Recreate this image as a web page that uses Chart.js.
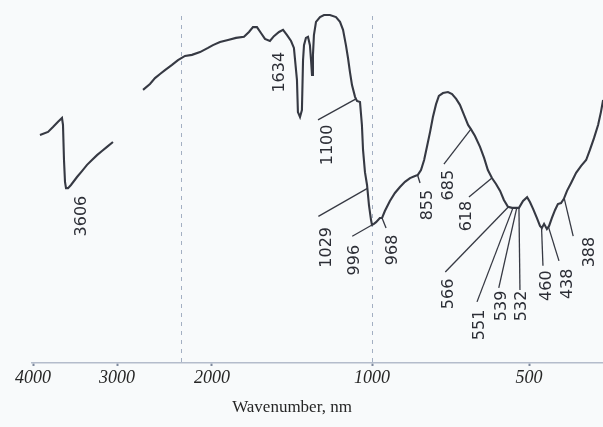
<!DOCTYPE html>
<html><head><meta charset="utf-8">
<script src="https://cdn.jsdelivr.net/npm/chart.js@4.4.1/dist/chart.umd.min.js"></script>
<style>html,body{margin:0;padding:0;background:#f8fafb;}#wrap{width:603px;height:427px;}</style>
</head><body><div id="wrap"><canvas id="c" width="603" height="427"></canvas></div>
<script>
// ---- data ----
const wavenumbers = [
  3917,3821,3762,3702,3655,3643,3631,3619,3607,3583,3548,3476,3417,3357,3298,3238,3179,3119,3048,
  2900,
  2726,2653,2600,2547,2495,2421,2358,2284,2211,2126,2042,1994,1950,1900,1850,1800,1769,1744,1719,1694,
  1669,1638,1613,1581,1556,1531,1506,1488,1469,1463,1450,1438,1431,1425,1413,1400,1388,1381,1375,1369,
  1363,1350,1325,1300,1263,1225,1200,1181,1163,1150,1138,1125,1106,1094,1075,1063,1056,1044,1031,1019,
  1006,1000,994,987,975,968,959,943,927,911,895,879,863,854,844,834,825,815,806,796,787,774,758,745,732,
  720,707,694,685,672,656,643,631,618,605,592,580,567,554,541,532,519,506,497,487,475,465,459,452,443,436,
  427,417,408,398,389,379,366,350,334,318,306,293,280,271,264
];
const transmittance = [
  65.7,66.6,68.0,69.5,70.6,68.6,58.5,52.2,50.4,50.4,51.3,53.6,55.3,57.1,58.5,59.9,61.1,62.3,63.7,
  null,
  78.7,80.4,82.1,83.3,84.4,85.9,87.3,88.5,88.8,89.6,90.8,91.6,92.5,93.1,93.7,94.0,95.4,96.8,96.8,95.1,
  93.4,92.8,94.2,95.4,96.0,94.5,92.8,90.8,81.6,72.3,70.9,72.9,87.3,91.6,93.7,94.0,91.6,87.3,83.0,88.8,
  94.5,98.3,99.7,100.3,100.3,99.7,98.3,96.0,91.6,87.9,83.9,80.1,76.7,75.5,75.2,68.6,61.4,55.0,51.3,45.5,
  41.2,39.8,40.1,40.6,41.8,41.8,43.8,46.7,49.0,50.7,52.2,53.3,53.9,54.2,55.6,58.5,62.3,66.6,70.9,74.6,77.0,77.8,78.1,77.5,76.1,
  74.4,71.5,68.6,67.4,65.4,62.3,59.1,55.6,53.3,51.6,49.6,47.0,45.0,44.7,44.7,44.7,46.7,47.8,46.4,44.4,41.8,39.5,38.9,40.1,38.6,39.5,
  41.8,44.1,45.8,46.1,47.3,49.6,51.9,54.8,56.8,58.5,61.4,64.8,68.6,72.3,75.8
];
const peakLabels = [3606,1634,1100,1029,996,968,855,685,618,566,551,539,532,460,438,388];
const axisTickLabels = [4000,3000,2000,1000,500];
const gridWavenumbers = [2326,1000];
const axisTitle = 'Wavenumber, nm';

// ---- layout (not data) ----
// piecewise axis: wavenumber knots and their relative positions along the axis
const knotWn = [4000,3000,2000,1000,500];
const knotU  = [33,117,212,372,529];
const axisRangeU = [32,603];
// per label: [leader dx, leader dy, label dx, label dy] in px from the peak point (null = no leader)
const labelLayout = [
  [null,null,16,28],[null,null,9,32],[-38,21,-28,46],[-49,28,-41,59],[-21,12,-18,36],[4,10,11,32],
  [2.5,8,10,30],[-27,35,-22,56],[-23,19,-25,38],[-63,65,-59,87],[-36,94,-33,117],[-18,80,-15,98],
  [1,82,3,98],[1.4,38,5,58],[10.5,34,19.5,57],[9,38,26,54]
];

function toU(wn){
  const n = knotWn.length;
  let i = 0;
  if (wn >= knotWn[0]) i = 0;
  else if (wn <= knotWn[n-1]) i = n-2;
  else { while (i < n-2 && wn < knotWn[i+1]) i++; }
  const t = (wn - knotWn[i])/(knotWn[i+1]-knotWn[i]);
  return knotU[i] + t*(knotU[i+1]-knotU[i]);
}
function fromU(u){
  const n = knotU.length;
  let i = 0;
  if (u <= knotU[0]) i = 0;
  else if (u >= knotU[n-1]) i = n-2;
  else { while (i < n-2 && u > knotU[i+1]) i++; }
  const t = (u - knotU[i])/(knotU[i+1]-knotU[i]);
  return knotWn[i] + t*(knotWn[i+1]-knotWn[i]);
}

class BrokenAxisScale extends Chart.LinearScale {
  getPixelForValue(v){ return (v === null || v === undefined) ? NaN : super.getPixelForValue(toU(v)); }
  getValueForPixel(p){ return fromU(super.getValueForPixel(p)); }
}
BrokenAxisScale.id = 'brokenaxis';
BrokenAxisScale.defaults = Chart.LinearScale.defaults;
Chart.register(BrokenAxisScale);

function interpT(wn){
  for (let i = 0; i < wavenumbers.length-1; i++){
    const a = wavenumbers[i], b = wavenumbers[i+1];
    if (transmittance[i] === null || transmittance[i+1] === null) continue;
    if ((wn <= a && wn >= b)){
      const t = (wn - a)/(b - a);
      return transmittance[i] + t*(transmittance[i+1]-transmittance[i]);
    }
  }
  return null;
}

const points = wavenumbers.map((w,i)=>({x:w, y:transmittance[i]}));
const ink = '#363943';

const peakPlugin = {
  id: 'peaks',
  afterDatasetsDraw(chart){
    const {ctx, scales:{x, y}} = chart;
    ctx.save();
    ctx.strokeStyle = ink; ctx.lineWidth = 1.3; ctx.fillStyle = '#2c2e36';
    ctx.font = '16px "DejaVu Sans"';
    ctx.textAlign = 'center'; ctx.textBaseline = 'middle';
    peakLabels.forEach((p, i) => {
      const px = x.getPixelForValue(p), py = y.getPixelForValue(interpT(p));
      const [ldx, ldy, tdx, tdy] = labelLayout[i];
      if (ldx !== null){
        ctx.beginPath(); ctx.moveTo(px, py); ctx.lineTo(px+ldx, py+ldy); ctx.stroke();
      }
      ctx.save();
      ctx.translate(px+tdx, py+tdy); ctx.rotate(-Math.PI/2);
      ctx.fillText(String(p), 0, 0);
      ctx.restore();
    });
    // axis title, centred between the 2000 and 1000 ticks as in the original figure
    ctx.font = '17px "Liberation Serif"';
    ctx.fillStyle = '#262626';
    ctx.textBaseline = 'middle';
    const tx = (x.getPixelForValue(2000) + x.getPixelForValue(1000)) / 2;
    ctx.fillText(axisTitle, tx, x.bottom - 19);
    ctx.restore();
  }
};
const bgPlugin = {
  id:'bg',
  beforeDraw(chart){ const c=chart.ctx; c.save(); c.fillStyle='#f8fafb'; c.fillRect(0,0,chart.width,chart.height); c.restore(); }
};

new Chart(document.getElementById('c'), {
  type: 'line',
  data: { datasets: [{ data: points, borderColor: ink, borderWidth: 2.1, pointRadius: 0, tension: 0, spanGaps: false, clip: false, fill: false }] },
  options: {
    responsive: false, devicePixelRatio: 1, animation: false, events: [],
    layout: { padding: { left: axisRangeU[0], right: 0, top: 16, bottom: 0 } },
    plugins: { legend: {display:false}, tooltip: {enabled:false} },
    scales: {
      x: {
        type: 'brokenaxis', min: axisRangeU[0], max: axisRangeU[1], bounds: 'data',
        afterBuildTicks(scale){ scale.ticks = axisTickLabels.concat(gridWavenumbers.filter(g=>!axisTickLabels.includes(g))).map(v=>({value:v})); },
        afterFit(scale){ scale.height = 64; scale.paddingLeft = 0; scale.paddingRight = 0; },
        ticks: {
          autoSkip: false, maxRotation: 0, minRotation: 0, padding: 1,
          font: { family: 'Liberation Serif', style: 'italic', size: 18 }, color: '#262626',
          callback: (v) => axisTickLabels.includes(v) ? String(v) : ''
        },
        grid: {
          color: (c) => c.tick && gridWavenumbers.includes(c.tick.value) ? '#a3afc2' : 'rgba(0,0,0,0)',
          lineWidth: 1,
          tickColor: (c) => c.tick && axisTickLabels.includes(c.tick.value) ? '#7d889c' : 'rgba(0,0,0,0)',
          tickLength: 3, tickWidth: 2, tickBorderDash: []
        },
        border: { display: true, color: '#b4bccb', width: 1.5, dash: [4,5] },
        title: { display: false }
      },
      y: { type: 'linear', display: false, min: 0, max: 100 }
    }
  },
  plugins: [bgPlugin, peakPlugin]
});
</script></body></html>
